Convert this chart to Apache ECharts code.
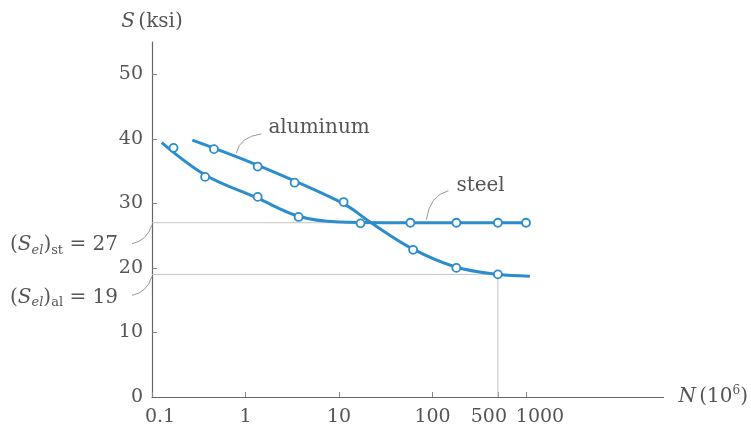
<!DOCTYPE html>
<html>
<head>
<meta charset="utf-8">
<script src="https://cdn.jsdelivr.net/npm/echarts@6/dist/echarts.min.js"></script>
<style>
  html, body { margin: 0; padding: 0; background: #fff; }
  #chart { width: 751px; height: 433px; }
</style>
</head>
<body>
<div id="chart"></div>
<script>
// Fatigue (S-N) curves, N in millions of cycles on a log scale.
const xTicks = [0.1, 1, 10, 100, 500, 1000];
const xTickLabels = ['0.1', '1', '10', '100', '500', '1000'];
const yTicks = [0, 10, 20, 30, 40, 50];

// Test points
const steelTestN = [0.17, 0.37, 1.35, 3.7, 17, 58, 180, 500, 1000];
const steelTestS = [38.6, 34.1, 31.0, 27.9, 26.9, 27, 27, 27, 27];
const aluminumTestN = [0.46, 1.35, 3.35, 11.2, 62, 180, 500];
const aluminumTestS = [38.4, 35.7, 33.2, 30.2, 22.8, 20.0, 19.0];

// Fitted curves
const steelCurveN = [0.127, 0.37, 1.35, 3.7, 10, 30, 1000];
const steelCurveS = [39.4, 34.4, 30.8, 28.0, 27.1, 27.0, 27.0];
const aluminumCurveN = [0.27, 1.35, 11, 22, 62, 180, 500, 1100];
const aluminumCurveS = [39.8, 35.9, 30.0, 27.0, 22.9, 20.1, 19.0, 18.7];

// Endurance limits
const steelLimit = 27;
const aluminumLimit = 19;
const aluminumLimitN = 500;

const blue = '#2b8dcc';
const textColor = '#555';
const serif = "'DejaVu Serif', 'Liberation Serif', serif";

const lg = v => Math.log10(v);
const pairs = (ns, ss) => ns.map((n, i) => [lg(n), ss[i]]);

// Rich text styles for the graphic annotations (zrender uses fill)
const subRich = {
  p: { fontSize: 20, fontFamily: serif, fill: textColor, lineHeight: 24 },
  s: { fontSize: 20, fontFamily: serif, fill: textColor, fontStyle: 'italic', lineHeight: 24 },
  e: { fontSize: 13, fontFamily: serif, fill: textColor, fontStyle: 'italic', lineHeight: 13, verticalAlign: 'bottom' },
  b: { fontSize: 13, fontFamily: serif, fill: textColor, lineHeight: 13, verticalAlign: 'bottom' }
};

// Annotation anchors and their text
const annotations = [
  { at: [0.1, steelLimit], text: '{p|(}{s|S}{e|el}{p|)}{b|st}{p| = 27}', align: 'right',
    lead: [[0, 2], [-5, 18], [-20, 21]], tx: -34, ty: 22 },
  { at: [0.1, aluminumLimit], text: '{p|(}{s|S}{e|el}{p|)}{b|al}{p| = 19}', align: 'right',
    lead: [[0, 2], [-5, 18], [-20, 21]], tx: -34, ty: 23 },
  { at: [0.8, 37.2], text: '{p|aluminum}', align: 'left',
    lead: [[0, -4], [3, -20], [25, -23]], tx: 32, ty: -29 },
  { at: [86, steelLimit], text: '{p|steel}', align: 'left',
    lead: [[0, -3], [3, -27], [22, -32]], tx: 30, ty: -37 }
];

// Crowded tick labels are nudged sideways
const tickLabelStyle = { fontSize: 19, fontFamily: serif, color: textColor };
const tickRich = {
  c: tickLabelStyle,
  l: Object.assign({ padding: [0, 18, 0, 0] }, tickLabelStyle),
  r: Object.assign({ padding: [0, 0, 0, 28] }, tickLabelStyle),
  o: Object.assign({ padding: [0, 0, 0, 16] }, tickLabelStyle)
};
const tickShift = { '0.1': 'o', '500': 'l', '1000': 'r' };

const chart = echarts.init(document.getElementById('chart'), null, { renderer: 'canvas' });

chart.setOption({
  animation: false,
  backgroundColor: '#fff',
  grid: { left: 152, right: 86, top: 42, bottom: 36, containLabel: false },
  xAxis: {
    type: 'value',
    min: -1,
    max: 4.47,
    splitLine: { show: false },
    axisLine: { onZero: false, lineStyle: { color: '#666', width: 1.2 } },
    axisTick: { show: true, inside: true, length: 5, customValues: xTicks.map(lg), lineStyle: { color: '#888' } },
    axisLabel: {
      customValues: xTicks.map(lg),
      hideOverlap: false,
      formatter: v => {
        const i = xTicks.findIndex(t => Math.abs(lg(t) - v) < 1e-6);
        if (i < 0) return '';
        const lab = xTickLabels[i];
        return '{' + (tickShift[lab] || 'c') + '|' + lab + '}';
      },
      rich: tickRich,
      margin: 11,
      fontSize: 19,
      fontFamily: serif,
      color: textColor
    },
    name: '{i|N} {n|(10}{sup|6}{n|)}',
    nameLocation: 'end',
    nameGap: 15,
    nameTextStyle: {
      verticalAlign: 'middle',
      rich: {
        i: { fontSize: 20, fontFamily: serif, fontStyle: 'italic', color: textColor, lineHeight: 24 },
        n: { fontSize: 20, fontFamily: serif, color: textColor, lineHeight: 24 },
        sup: { fontSize: 12, fontFamily: serif, color: textColor, lineHeight: 12, verticalAlign: 'top' }
      }
    }
  },
  yAxis: {
    type: 'value',
    min: 0,
    max: 55,
    splitLine: { show: false },
    axisLine: { show: true, onZero: false, lineStyle: { color: '#666', width: 1.2 } },
    axisTick: { show: true, inside: true, length: 5, customValues: yTicks.slice(1), lineStyle: { color: '#888' } },
    axisLabel: {
      customValues: yTicks,
      hideOverlap: false,
      margin: 9,
      fontSize: 19,
      fontFamily: serif,
      color: textColor
    },
    name: '{i|S} {n|(ksi)}',
    nameLocation: 'end',
    nameGap: 10,
    nameTextStyle: {
      align: 'center',
      rich: {
        i: { fontSize: 20, fontFamily: serif, fontStyle: 'italic', color: textColor },
        n: { fontSize: 20, fontFamily: serif, color: textColor }
      }
    }
  },
  series: [
    {
      name: 'steel limit',
      type: 'line',
      silent: true,
      showSymbol: false,
      data: [[lg(0.1), steelLimit], [lg(1000), steelLimit]],
      lineStyle: { color: '#c4c4c4', width: 1 },
      z: 1
    },
    {
      name: 'aluminum limit',
      type: 'line',
      silent: true,
      showSymbol: false,
      data: [[lg(0.1), aluminumLimit], [lg(aluminumLimitN), aluminumLimit], [lg(aluminumLimitN), 0]],
      lineStyle: { color: '#c4c4c4', width: 1 },
      z: 1
    },
    {
      name: 'steel',
      type: 'line',
      smooth: 0.35,
      showSymbol: false,
      data: pairs(steelCurveN, steelCurveS),
      lineStyle: { color: blue, width: 3 },
      z: 3
    },
    {
      name: 'aluminum',
      type: 'line',
      smooth: 0.35,
      showSymbol: false,
      data: pairs(aluminumCurveN, aluminumCurveS),
      lineStyle: { color: blue, width: 3 },
      z: 3
    },
    {
      name: 'steel tests',
      type: 'scatter',
      symbol: 'circle',
      symbolSize: 8,
      data: pairs(steelTestN, steelTestS),
      itemStyle: { color: '#fff', borderColor: blue, borderWidth: 1.8, opacity: 1 },
      z: 4
    },
    {
      name: 'aluminum tests',
      type: 'scatter',
      symbol: 'circle',
      symbolSize: 8,
      data: pairs(aluminumTestN, aluminumTestS),
      itemStyle: { color: '#fff', borderColor: blue, borderWidth: 1.8, opacity: 1 },
      z: 4
    },
    {
      name: 'annotations',
      type: 'custom',
      clip: false,
      silent: true,
      data: annotations.map(a => [lg(a.at[0]), a.at[1]]),
      renderItem: (params, api) => {
        const a = annotations[params.dataIndex];
        const p = api.coord([api.value(0), api.value(1)]);
        const [s, c, e] = a.lead;
        return {
          type: 'group',
          children: [
            {
              type: 'bezierCurve',
              shape: {
                x1: p[0] + s[0], y1: p[1] + s[1],
                cpx1: p[0] + c[0], cpy1: p[1] + c[1],
                x2: p[0] + e[0], y2: p[1] + e[1]
              },
              style: { stroke: '#9a9a9a', lineWidth: 1, fill: null }
            },
            {
              type: 'text',
              x: p[0] + a.tx,
              y: p[1] + a.ty,
              style: {
                text: a.text,
                rich: subRich,
                fill: textColor,
                align: a.align,
                verticalAlign: 'middle'
              }
            }
          ]
        };
      },
      z: 5
    }
  ]
});
</script>
</body>
</html>
